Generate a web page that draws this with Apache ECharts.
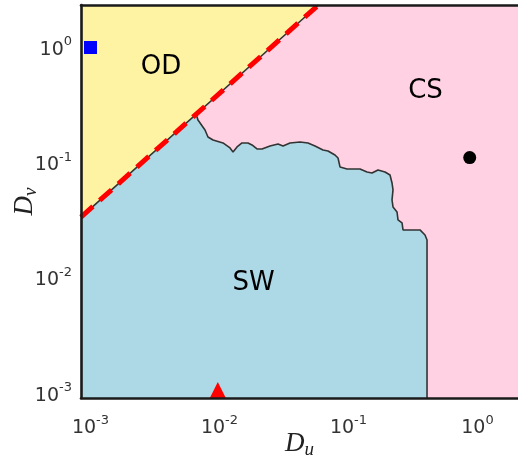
<!DOCTYPE html>
<html><head><meta charset="utf-8">
<script src="https://cdn.jsdelivr.net/npm/echarts@6/dist/echarts.min.js"></script>
<style>html,body{margin:0;padding:0;background:#fff;}#c{width:518px;height:459px;}</style>
</head><body><div id="c"></div>
<script>
// Axis extents (Du horizontal, Dv vertical), log scale
const xExtent = [0.000844, 2.06];
const yExtent = [0.00091, 2.337];
const xTickExps = [-3, -2, -1, 0];
const yTickExps = [-3, -2, -1, 0];

// OD / rest boundary (red dashed line), from left frame to top frame
const odLineDu = [0.000844, 0.0584];
const odLineDv = [0.03376, 2.337];

// SW / CS boundary
const swEdgeDu = [0.0066, 0.00681, 0.00772, 0.00814, 0.00891, 0.01064, 0.01206, 0.01273, 0.01367, 0.01494,
  0.01663, 0.01786, 0.01953, 0.02136, 0.02463, 0.02841, 0.03107, 0.0352, 0.04207, 0.04853,
  0.05498, 0.06342, 0.06935, 0.07857, 0.08292, 0.08592, 0.09736, 0.1228, 0.1391, 0.1521,
  0.1693, 0.1918, 0.2098, 0.2174, 0.2213, 0.2174, 0.2213, 0.2377, 0.2419, 0.2599,
  0.2646, 0.3583, 0.3917, 0.4061, 0.4061, 0.4061];
const swEdgeDv = [0.264, 0.235, 0.1925, 0.1674, 0.1576, 0.1485, 0.1344, 0.1241, 0.1371, 0.1485,
  0.1485, 0.1427, 0.1317, 0.1317, 0.1399, 0.1455, 0.1399, 0.1485, 0.1515, 0.1485,
  0.1399, 0.1291, 0.1266, 0.1168, 0.11, 0.09196, 0.08836, 0.08836, 0.08322, 0.08157,
  0.08662, 0.08322, 0.07835, 0.0668, 0.05808, 0.04757, 0.04136, 0.03744, 0.0319, 0.03005,
  0.02613, 0.02613, 0.02364, 0.0214, 0.01752, 0.0005];
// closing corners of SW region (bottom-left, up to the OD line)
const swOuterDu = [0.0005, 0.0005];
const swOuterDv = [0.0005, 0.02];

// markers
const squareDu = [0.001], squareDv = [1.0];
const triangleDu = [0.0097], triangleDv = [0.00107];
const dotDu = [0.87], dotDv = [0.111];

// region labels
const regionNames = ['OD', 'CS', 'SW'];
const regionDu = [0.00352, 0.3953, 0.01835];
const regionDv = [0.671, 0.4195, 0.008978];

const zip = (a, b) => a.map((v, i) => [v, b[i]]);
const swEdge = zip(swEdgeDu, swEdgeDv);
const swPoly = swEdge.concat(zip(swOuterDu, swOuterDv));
const odLine = zip(odLineDu, odLineDv);
const odPoly = odLine.concat([[odLineDu[0], odLineDv[1]]]);

function polySeries(points, color, z) {
  return {
    type: 'custom', coordinateSystem: 'cartesian2d', clip: true, silent: true, z: z,
    data: [points[0]],
    renderItem: function (params, api) {
      return { type: 'polygon', shape: { points: points.map(p => api.coord(p)) }, style: { fill: color } };
    }
  };
}

function tickFmt(exps) {
  return function (v) {
    const l = Math.log10(v);
    const e = Math.round(l);
    if (Math.abs(l - e) > 1e-6 || exps.indexOf(e) < 0) return '';
    return '{b|10}{s|' + e + '}';
  };
}
const tickRich = {
  b: { fontFamily: 'DejaVu Sans', fontSize: 19, color: '#333', lineHeight: 24, verticalAlign: 'bottom' },
  s: { fontFamily: 'DejaVu Sans', fontSize: 13, color: '#333', lineHeight: 13, verticalAlign: 'top' }
};
const nameRich = {
  d: { fontFamily: 'Liberation Serif', fontStyle: 'italic', fontSize: 27, color: '#222', lineHeight: 30 },
  s: { fontFamily: 'Liberation Serif', fontStyle: 'italic', fontSize: 19, color: '#222', lineHeight: 12, verticalAlign: 'bottom' }
};
const frame = { show: true, onZero: false, lineStyle: { color: '#1a1a1a', width: 2.6 } };

const chart = echarts.init(document.getElementById('c'));
chart.setOption({
  animation: false,
  grid: { left: 81, right: 0, top: 5, bottom: 61, show: true, backgroundColor: '#ffd1e2', borderWidth: 0,
          containLabel: false, outerBoundsMode: 'none' },
  xAxis: [{
    type: 'log', logBase: 10, min: xExtent[0], max: xExtent[1], position: 'bottom', z: 10,
    axisLine: frame, axisTick: { show: false }, splitLine: { show: false },
    axisLabel: { formatter: tickFmt(xTickExps), rich: tickRich, margin: 16, showMinLabel: false, showMaxLabel: false, hideOverlap: false },
    name: '{d|D}{s|u}', nameLocation: 'middle', nameGap: 31, nameMoveOverlap: false, nameTextStyle: { rich: nameRich }
  }, {
    type: 'log', logBase: 10, min: xExtent[0], max: xExtent[1], position: 'top', z: 10,
    axisLine: frame, axisTick: { show: false }, splitLine: { show: false }, axisLabel: { show: false }
  }],
  yAxis: [{
    type: 'log', logBase: 10, min: yExtent[0], max: yExtent[1], position: 'left', z: 10,
    axisLine: frame, axisTick: { show: false }, splitLine: { show: false },
    axisLabel: { formatter: tickFmt(yTickExps), rich: tickRich, margin: 9, showMinLabel: false, showMaxLabel: false, hideOverlap: false },
    name: '{d|D}{s|v}', nameLocation: 'middle', nameGap: 41, nameMoveOverlap: false, nameTextStyle: { rich: nameRich }
  }],
  series: [
    polySeries(odPoly, '#fdf3a2', 1),
    polySeries(swPoly, '#add8e6', 1),
    { type: 'line', data: swEdge, showSymbol: false, symbol: 'none', z: 3, silent: true,
      lineStyle: { color: '#333', width: 1.6 } },
    { type: 'line', data: odLine, showSymbol: false, symbol: 'none', z: 3, silent: true,
      lineStyle: { color: '#333', width: 1.6 } },
    { type: 'line', data: odLine, showSymbol: false, symbol: 'none', z: 4, silent: true,
      lineStyle: { color: '#ff0000', width: 5, type: [16, 9], cap: 'butt' } },
    { type: 'scatter', data: zip(squareDu, squareDv), symbol: 'rect', symbolSize: 13, z: 6,
      itemStyle: { color: '#0000ff', opacity: 1 } },
    { type: 'scatter', data: zip(triangleDu, triangleDv), symbol: 'triangle', symbolSize: 16, z: 6,
      itemStyle: { color: '#ff0000', opacity: 1 } },
    { type: 'scatter', data: zip(dotDu, dotDv), symbol: 'circle', symbolSize: 13, z: 6,
      itemStyle: { color: '#000000', opacity: 1 } },
    { type: 'scatter', data: zip(regionDu, regionDv).map((p, i) => ({ value: p, name: regionNames[i] })),
      symbolSize: 0, z: 7, silent: true, itemStyle: { opacity: 1 },
      label: { show: true, position: 'inside', formatter: '{b}', fontFamily: 'DejaVu Sans', fontSize: 26, color: '#000', opacity: 1 } }
  ]
});
</script>
</body></html>
